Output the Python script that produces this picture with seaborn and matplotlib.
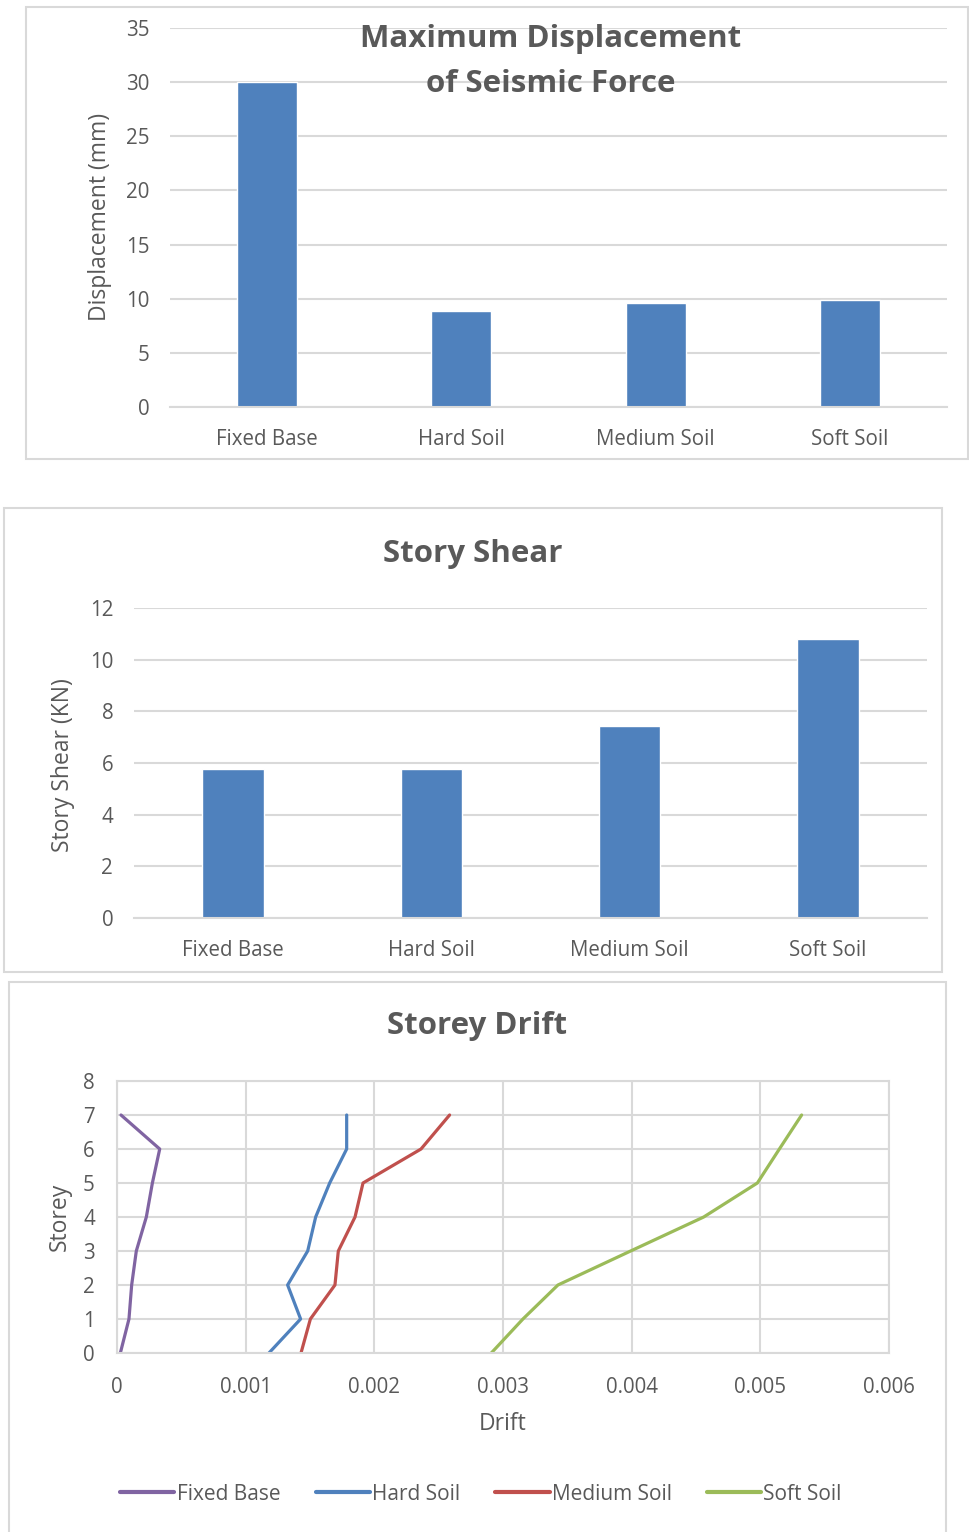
import matplotlib
matplotlib.use("Agg")
import matplotlib.pyplot as plt
from matplotlib.patches import Rectangle
import pandas as pd
import seaborn as sns

# ---- data ----
cases = ["Fixed Base", "Hard Soil", "Medium Soil", "Soft Soil"]
max_displacement = [30.0, 8.9, 9.6, 9.9]      # mm
story_shear = [5.75, 5.75, 7.45, 10.8]       # KN

storeys = [0, 1, 2, 3, 4, 5, 6, 7]
drift_fixed = [0.000026, 0.000093, 0.000114, 0.000150, 0.000228, 0.000275, 0.000332, 0.000031]
drift_hard = [0.001181, 0.001427, 0.001326, 0.001482, 0.001544, 0.001653, 0.001785, 0.001785]
drift_medium = [0.001430, 0.001503, 0.001694, 0.001720, 0.001850, 0.001912, 0.002363, 0.002585]
drift_soft = [0.002909, 0.003155, 0.003427, 0.003992, 0.004560, 0.004977, 0.005148, 0.005321]

line_colors = ["#8064A2", "#4F81BD", "#C0504D", "#9BBB59"]
bar_color = "#4F81BD"
text_color = "#595959"
grid_color = "#D9D9D9"

W, H = 969, 1532
TICK_FS = 14.8
LABEL_FS = 16.5
TITLE_FS = 22.5

sns.set_theme(style="white")
plt.rcParams["font.family"] = ["Open Sans", "DejaVu Sans"]


def rect(left, top, right, bottom):
    # pixel box -> figure fraction
    return [left / W, 1 - bottom / H, (right - left) / W, (bottom - top) / H]


def ftext(x, y, s, **kw):
    fig.text(x / W, 1 - y / H, s, color=text_color, ha="center", va="center", **kw)


def style_bar_axes(ax, ymax, step):
    ax.set_ylim(0, ymax)
    ax.set_yticks(range(0, ymax + 1, step))
    ax.set_xlim(-0.5, 3.5)
    ax.set_xlabel("")
    ax.set_ylabel("")
    ax.grid(axis="y", color=grid_color, lw=1.5)
    ax.set_axisbelow(True)
    for s in ["top", "left", "right"]:
        ax.spines[s].set_visible(False)
    ax.spines["bottom"].set_color(grid_color)
    ax.spines["bottom"].set_linewidth(1.5)
    ax.tick_params(axis="both", length=0, labelsize=TICK_FS, labelcolor=text_color)
    ax.tick_params(axis="y", pad=15)
    ax.tick_params(axis="x", pad=16)


fig = plt.figure(figsize=(W / 100, H / 100), dpi=100)

# panel frames
for l, t, r, b in [(26, 7, 968, 459), (4, 508, 942, 972), (9, 982, 946, 1545)]:
    fig.patches.append(Rectangle((l / W, 1 - b / H), (r - l) / W, (b - t) / H,
                                 transform=fig.transFigure, fill=False,
                                 ec=grid_color, lw=1.5))

# ---- chart 1: maximum displacement ----
ax1 = fig.add_axes(rect(170, 28, 947, 407))
df_disp = pd.DataFrame({"Case": cases, "Displacement": max_displacement})
sns.barplot(data=df_disp, x="Case", y="Displacement", color=bar_color,
            saturation=1, width=0.31, ax=ax1)
style_bar_axes(ax1, 35, 5)
ftext(551, 39, "Maximum Displacement", fontsize=TITLE_FS, fontweight="bold")
ftext(551, 84, "of Seismic Force", fontsize=TITLE_FS, fontweight="bold")
ftext(100, 217, "Displacement (mm)", fontsize=LABEL_FS, rotation=90)

# ---- chart 2: story shear ----
ax2 = fig.add_axes(rect(134, 608, 927, 918))
df_shear = pd.DataFrame({"Case": cases, "Shear": story_shear})
sns.barplot(data=df_shear, x="Case", y="Shear", color=bar_color,
            saturation=1, width=0.31, ax=ax2)
style_bar_axes(ax2, 12, 2)
ftext(473, 554, "Story Shear", fontsize=TITLE_FS, fontweight="bold")
ftext(63, 765, "Story Shear (KN)", fontsize=LABEL_FS, rotation=90)

# ---- chart 3: storey drift ----
ax3 = fig.add_axes(rect(117, 1081, 889, 1353))
df_drift = pd.DataFrame({
    "Storey": storeys * 4,
    "Drift": drift_fixed + drift_hard + drift_medium + drift_soft,
    "Case": [c for c in cases for _ in storeys],
})
sns.lineplot(data=df_drift, x="Drift", y="Storey", hue="Case", hue_order=cases,
             palette=line_colors, sort=False, estimator=None, orient="y",
             lw=2.3, ax=ax3)
ax3.set_xlim(0, 0.006)
ax3.set_ylim(0, 8)
ax3.set_xticks([0, 0.001, 0.002, 0.003, 0.004, 0.005, 0.006])
ax3.set_xticklabels(["0", "0.001", "0.002", "0.003", "0.004", "0.005", "0.006"])
ax3.set_yticks(range(0, 9))
ax3.set_xlabel("")
ax3.set_ylabel("")
ax3.grid(True, color=grid_color, lw=1.5)
ax3.set_axisbelow(True)
for s in ax3.spines.values():
    s.set_color(grid_color)
    s.set_linewidth(1.5)
ax3.tick_params(axis="both", length=0, labelsize=TICK_FS, labelcolor=text_color)
ax3.tick_params(axis="y", pad=16)
ax3.tick_params(axis="x", pad=17)
ftext(477, 1026, "Storey Drift", fontsize=TITLE_FS, fontweight="bold")
ftext(60, 1217, "Storey", fontsize=LABEL_FS, rotation=90)
ftext(503, 1424, "Drift", fontsize=LABEL_FS)

handles, labels = ax3.get_legend_handles_labels()
ax3.get_legend().remove()
for h in handles:
    h.set_linewidth(3)
leg = fig.legend(handles, labels, loc="center", ncol=4, frameon=False,
                 bbox_to_anchor=(481 / W, 1 - 1494 / H), fontsize=15,
                 handlelength=2.6, handletextpad=0.1, columnspacing=1.7)
for t in leg.get_texts():
    t.set_color(text_color)

fig.savefig("out.png", dpi=100, facecolor="white")
